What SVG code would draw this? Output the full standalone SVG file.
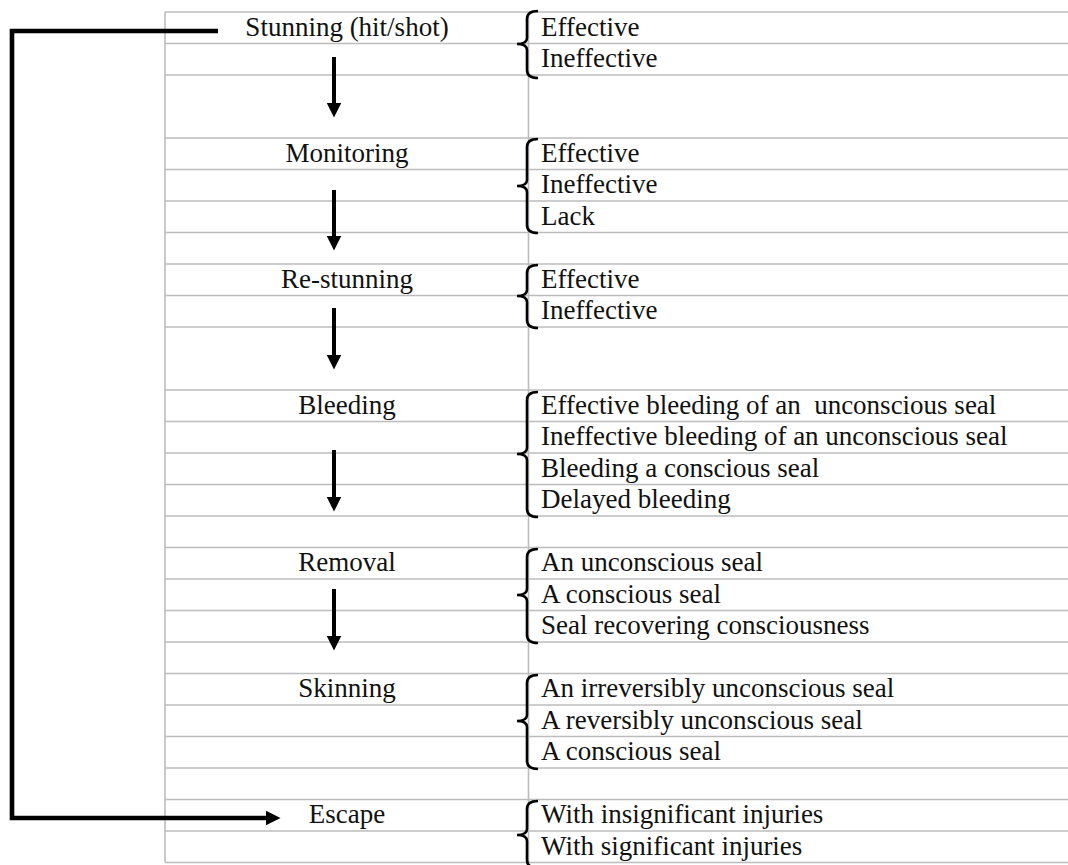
<svg xmlns="http://www.w3.org/2000/svg" width="1068" height="865" viewBox="0 0 1068 865">
<style>
.g{stroke:#bcbcbc;stroke-width:1.6;fill:none}
.t{font-family:"Liberation Serif","Times New Roman",serif;font-size:27px;fill:#111;white-space:pre}
.c{text-anchor:middle}
.b{stroke:#000;stroke-width:2.6;fill:none}
.a{stroke:#000;stroke-width:4;fill:none}
.l{stroke:#000;stroke-width:4.6;fill:none}
</style>
<defs>
<marker id="ah" markerUnits="userSpaceOnUse" markerWidth="17" markerHeight="16" refX="0.5" refY="7.5" orient="auto"><path d="M0,0 L15,7.5 L0,15 z" fill="#000"/></marker>
</defs>
<rect width="1068" height="865" fill="#fff"/>
<g id="grid">
<line class="g" x1="165" y1="12" x2="1068" y2="12"/>
<line class="g" x1="165" y1="43.5" x2="1068" y2="43.5"/>
<line class="g" x1="165" y1="75" x2="1068" y2="75"/>
<line class="g" x1="165" y1="138" x2="1068" y2="138"/>
<line class="g" x1="165" y1="169.5" x2="1068" y2="169.5"/>
<line class="g" x1="165" y1="201" x2="1068" y2="201"/>
<line class="g" x1="165" y1="232.5" x2="1068" y2="232.5"/>
<line class="g" x1="165" y1="264" x2="1068" y2="264"/>
<line class="g" x1="165" y1="295.5" x2="1068" y2="295.5"/>
<line class="g" x1="165" y1="327" x2="1068" y2="327"/>
<line class="g" x1="165" y1="390" x2="1068" y2="390"/>
<line class="g" x1="165" y1="421.5" x2="1068" y2="421.5"/>
<line class="g" x1="165" y1="453" x2="1068" y2="453"/>
<line class="g" x1="165" y1="484.5" x2="1068" y2="484.5"/>
<line class="g" x1="165" y1="516" x2="1068" y2="516"/>
<line class="g" x1="165" y1="547.5" x2="1068" y2="547.5"/>
<line class="g" x1="165" y1="579" x2="1068" y2="579"/>
<line class="g" x1="165" y1="610.5" x2="1068" y2="610.5"/>
<line class="g" x1="165" y1="642" x2="1068" y2="642"/>
<line class="g" x1="165" y1="673.5" x2="1068" y2="673.5"/>
<line class="g" x1="165" y1="705" x2="1068" y2="705"/>
<line class="g" x1="165" y1="736.5" x2="1068" y2="736.5"/>
<line class="g" x1="165" y1="768" x2="1068" y2="768"/>
<line class="g" x1="165" y1="799.5" x2="1068" y2="799.5"/>
<line class="g" x1="165" y1="831" x2="1068" y2="831"/>
<line class="g" x1="165" y1="862.5" x2="1068" y2="862.5"/>
<line class="g" x1="165" y1="12" x2="165" y2="862.5"/>
<line class="g" x1="528.5" y1="12" x2="528.5" y2="862.5"/>
</g>
<g id="stunning">
<text class="t c" x="347" y="35.5">Stunning (hit/shot)</text>
<path class="b" d="M538,11 Q527,11 527,19 L527,38 Q527,44 517,44 Q527,44 527,50 L527,70 Q527,78 538,78"/>
<text class="t" x="541" y="35.5">Effective</text>
<text class="t" x="541" y="67">Ineffective</text>
</g>
<g id="monitoring">
<text class="t c" x="347" y="161.5">Monitoring</text>
<path class="b" d="M538,139 Q527,139 527,147 L527,180 Q527,186 517,186 Q527,186 527,192 L527,225 Q527,233 538,233"/>
<text class="t" x="541" y="161.5">Effective</text>
<text class="t" x="541" y="193">Ineffective</text>
<text class="t" x="541" y="224.5">Lack</text>
</g>
<g id="restunning">
<text class="t c" x="347" y="287.5">Re-stunning</text>
<path class="b" d="M538,265 Q527,265 527,273 L527,290 Q527,296 517,296 Q527,296 527,302 L527,320 Q527,328 538,328"/>
<text class="t" x="541" y="287.5">Effective</text>
<text class="t" x="541" y="319">Ineffective</text>
</g>
<g id="bleeding">
<text class="t c" x="347" y="413.5">Bleeding</text>
<path class="b" d="M538,392 Q527,392 527,400 L527,448 Q527,454 517,454 Q527,454 527,460 L527,509 Q527,517 538,517"/>
<text class="t" x="541" y="413.5">Effective bleeding of an  unconscious seal</text>
<text class="t" x="541" y="445">Ineffective bleeding of an unconscious seal</text>
<text class="t" x="541" y="476.5">Bleeding a conscious seal</text>
<text class="t" x="541" y="508">Delayed bleeding</text>
</g>
<g id="removal">
<text class="t c" x="347" y="571">Removal</text>
<path class="b" d="M538,549 Q527,549 527,557 L527,589 Q527,595 517,595 Q527,595 527,601 L527,635 Q527,643 538,643"/>
<text class="t" x="541" y="571">An unconscious seal</text>
<text class="t" x="541" y="602.5">A conscious seal</text>
<text class="t" x="541" y="634">Seal recovering consciousness</text>
</g>
<g id="skinning">
<text class="t c" x="347" y="697">Skinning</text>
<path class="b" d="M538,675 Q527,675 527,683 L527,715 Q527,721 517,721 Q527,721 527,727 L527,761 Q527,769 538,769"/>
<text class="t" x="541" y="697">An irreversibly unconscious seal</text>
<text class="t" x="541" y="728.5">A reversibly unconscious seal</text>
<text class="t" x="541" y="760">A conscious seal</text>
</g>
<g id="escape">
<text class="t c" x="347" y="823">Escape</text>
<path class="b" d="M538,801 Q527,801 527,809 L527,829 Q527,835 517,835 Q527,835 527,841 L527,860 Q527,868 538,868"/>
<text class="t" x="541" y="823">With insignificant injuries</text>
<text class="t" x="541" y="854.5">With significant injuries</text>
</g>
<g id="connectors">
<line class="a" x1="334" y1="57" x2="334" y2="103" marker-end="url(#ah)"/>
<line class="a" x1="334" y1="190" x2="334" y2="236" marker-end="url(#ah)"/>
<line class="a" x1="334" y1="308" x2="334" y2="355" marker-end="url(#ah)"/>
<line class="a" x1="334" y1="450" x2="334" y2="497" marker-end="url(#ah)"/>
<line class="a" x1="334" y1="589" x2="334" y2="636" marker-end="url(#ah)"/>
<path class="l" d="M218,31 H12 V818 H266" marker-end="url(#ah)"/>
</g>
</svg>
